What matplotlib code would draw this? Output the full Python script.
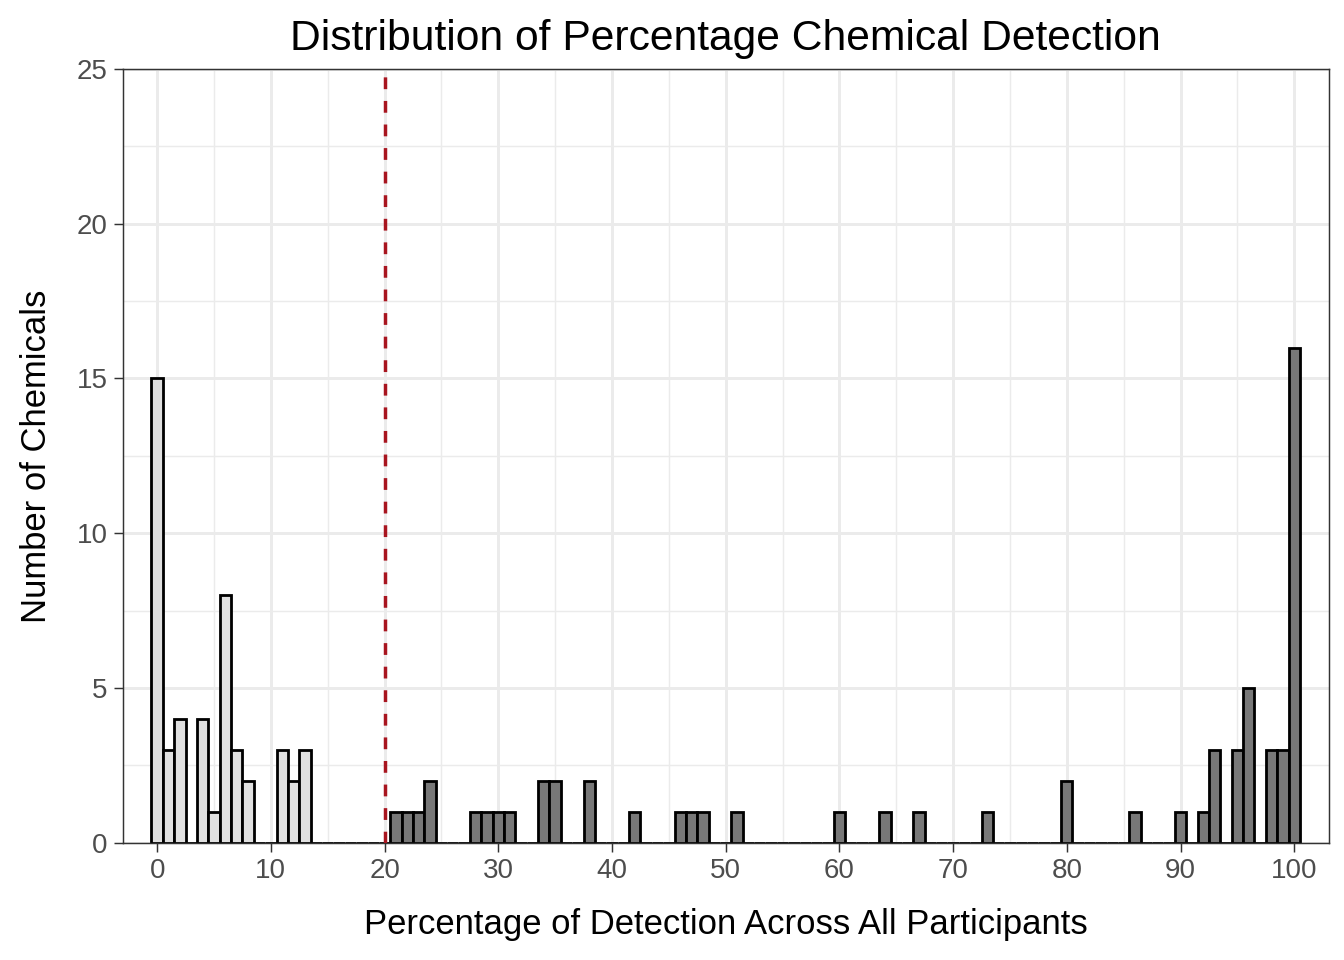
import numpy as np
import matplotlib.pyplot as plt

# detection percentage (bin centre, binwidth 1) and number of chemicals
pct_low = [0, 1, 2, 4, 5, 6, 7, 8, 11, 12, 13]
n_low   = [15, 3, 4, 4, 1, 8, 3, 2, 3, 2, 3]

pct_high = [21, 22, 23, 24, 28, 29, 30, 31, 34, 35, 38, 42, 46, 47, 48, 51,
            60, 64, 67, 73, 80, 86, 90, 92, 93, 95, 96, 98, 99, 100]
n_high   = [1, 1, 1, 2, 1, 1, 1, 1, 2, 2, 2, 1, 1, 1, 1, 1,
            1, 1, 1, 1, 2, 1, 1, 1, 3, 3, 5, 3, 3, 16]

cutoff = 20

bins = np.arange(0, 101)
counts = np.zeros(len(bins))
for p, n in zip(pct_low + pct_high, n_low + n_high):
    counts[p] = n
fills = ['#E0E0E0' if b < cutoff else '#787878' for b in bins]

plt.rcParams['font.family'] = ['Liberation Sans', 'DejaVu Sans']

fig = plt.figure(figsize=(7, 5), dpi=192)
ax = fig.add_axes([0.0913, 0.1222, 0.9886 - 0.0913, 0.9281 - 0.1222])

ax.set_xlim(-3.03, 103.03)
ax.set_ylim(0, 25)
ax.set_xticks(np.arange(0, 101, 10))
ax.set_xticks(np.arange(5, 101, 10), minor=True)
ax.set_yticks(np.arange(0, 26, 5))
ax.set_yticks(np.arange(2.5, 25, 5), minor=True)
ax.grid(which='major', color='#EBEBEB', linewidth=1.1)
ax.grid(which='minor', color='#EBEBEB', linewidth=0.55)
ax.set_axisbelow(True)

ax.bar(bins, counts, width=1, color=fills, edgecolor='black', linewidth=1.05, zorder=2)
ax.axvline(cutoff, color='#A8151F', linewidth=1.3, dashes=(3.4, 3.4), zorder=3)

for s in ax.spines.values():
    s.set_color('#333333')
    s.set_linewidth(0.55)
ax.tick_params(which='major', length=3.2, width=0.55, color='#333333',
               labelsize=10.4, labelcolor='#4D4D4D', pad=2.5)
ax.tick_params(which='minor', length=0)

ax.set_title('Distribution of Percentage Chemical Detection', fontsize=16, pad=7)
ax.set_xlabel('Percentage of Detection Across All Participants', fontsize=13, labelpad=9)
ax.set_ylabel('Number of Chemicals', fontsize=13, labelpad=9)

fig.savefig('out.png', dpi=192)
